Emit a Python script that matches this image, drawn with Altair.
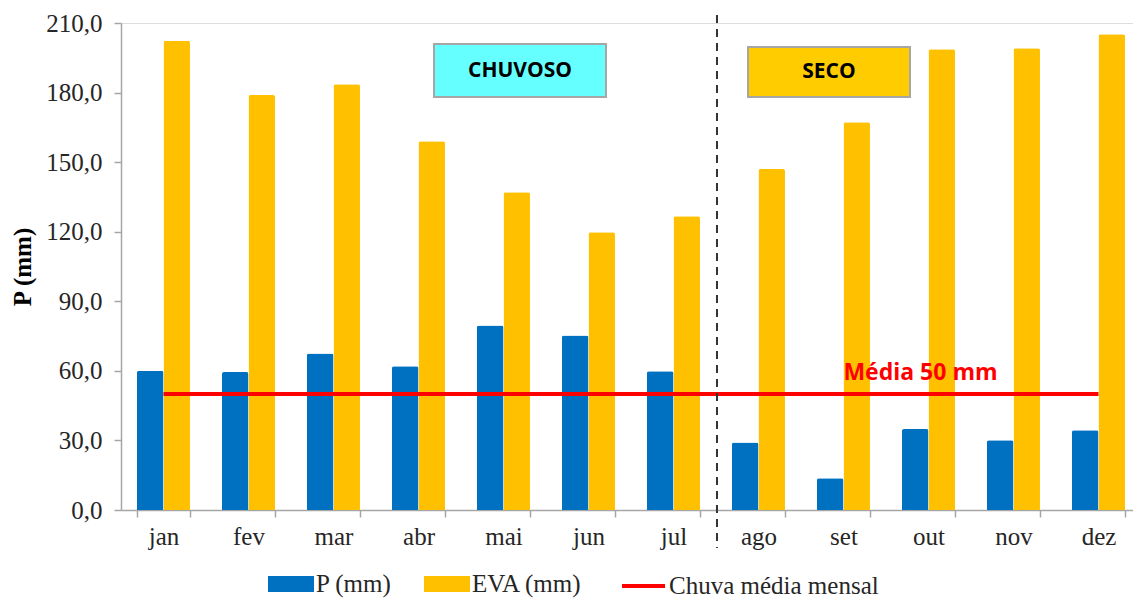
import altair as alt
import pandas as pd

months = ["jan", "fev", "mar", "abr", "mai", "jun", "jul", "ago", "set", "out", "nov", "dez"]
p_mm = [60.0, 59.5, 67.5, 62.0, 79.6, 75.3, 59.8, 29.1, 13.7, 34.9, 30.1, 34.4]
eva_mm = [202.3, 178.9, 183.6, 159.0, 137.0, 119.8, 126.7, 147.0, 167.2, 198.7, 199.1, 205.2]
mean_rain = 50.0
bar_series = ["P (mm)", "EVA (mm)"]
bar_colors = ["#0070C0", "#FFC000"]
line_series = ["Chuva média mensal"]
line_colors = ["#FF0000"]
y_ticks = [0, 30, 60, 90, 120, 150, 180, 210]
season_labels = ["CHUVOSO", "SECO"]
mean_label = "Média 50 mm"

rows = []
for m, p, e in zip(months, p_mm, eva_mm):
    rows.append({"month": m, "series": bar_series[0], "value": p})
    rows.append({"month": m, "series": bar_series[1], "value": e})
bars_df = pd.DataFrame(rows)
line_df = pd.DataFrame({"month": months, "series": line_series[0], "value": [mean_rain] * len(months)})
label_df = pd.DataFrame({"month": ["out"], "value": [mean_rain], "text": [mean_label]})
divider_df = pd.DataFrame({"month": ["ago"]})

SERIF = "Liberation Serif"
SANS = "Open Sans"
TXT = "#262626"
GRAY = "#A6A6A6"

x_enc = alt.X(
    "month:N", sort=months,
    scale=alt.Scale(paddingInner=0.3765, paddingOuter=0.1412, align=0.666),
    axis=alt.Axis(title=None, labelAngle=0, tickBand="extent", labelFont=SERIF,
                  labelFontSize=25, labelColor=TXT, labelPadding=7, tickSize=7,
                  tickColor=GRAY, domainColor=GRAY, domainWidth=1.5, tickWidth=1.5)
)
y_enc = alt.Y(
    "value:Q",
    scale=alt.Scale(domain=[0, 210], nice=False),
    axis=alt.Axis(title="P (mm)", values=y_ticks, grid=False,
                  labelExpr="replace(format(datum.value, '.1f'), '.', ',')",
                  labelFont=SERIF, labelFontSize=25, labelColor=TXT, labelPadding=12,
                  tickSize=7, tickColor=GRAY, domainColor=GRAY, domainWidth=1.5, tickWidth=1.5,
                  titleFont=SERIF, titleFontSize=25, titleFontWeight="bold", titleColor="#000000",
                  titlePadding=10)
)

bar_legend = alt.Legend(
    title=None, orient="none", direction="horizontal",
    legendX=147, legendY=538, padding=0,
    labelFont=SERIF, labelFontSize=25, labelColor=TXT, labelOffset=2, labelLimit=0,
    columnPadding=32, symbolSize=2116, symbolType="M-1,-0.35H1V0.35H-1Z",
    symbolStrokeWidth=0,
)
line_legend = alt.Legend(
    title=None, orient="none", direction="horizontal",
    legendX=499, legendY=539.5, padding=0,
    labelFont=SERIF, labelFontSize=25, labelColor=TXT, labelOffset=2, labelLimit=0,
    symbolSize=1849, symbolType="stroke", symbolStrokeWidth=4,
)

bars = alt.Chart(bars_df).mark_bar(cornerRadiusTopLeft=2, cornerRadiusTopRight=2).encode(
    x=x_enc, y=y_enc,
    xOffset=alt.XOffset("series:N", sort=bar_series, scale=alt.Scale(domain=bar_series)),
    fill=alt.Fill("series:N", scale=alt.Scale(domain=bar_series, range=bar_colors), legend=bar_legend),
)

line = alt.Chart(line_df).mark_line(strokeWidth=4).encode(
    x=alt.X("month:N", sort=months), y="value:Q",
    stroke=alt.Stroke("series:N", scale=alt.Scale(domain=line_series, range=line_colors), legend=line_legend),
)

mean_text = alt.Chart(label_df).mark_text(
    font=SANS, fontSize=23, fontWeight="bold", color="#FF0000", dy=-21, dx=-8
).encode(x=alt.X("month:N", sort=months), y="value:Q", text="text:N")

divider = alt.Chart(divider_df).mark_rule(
    color="#333333", strokeWidth=2, strokeDash=[8, 6], xOffset=-15
).encode(
    x=alt.X("month:N", sort=months, bandPosition=0),
    y=alt.value(-8), y2=alt.value(525)
)

box1 = alt.Chart(pd.DataFrame({"t": [season_labels[0]]})).mark_rect(
    fill="#66FFFF", stroke=GRAY, strokeWidth=2
).encode(x=alt.value(313), x2=alt.value(485), y=alt.value(21), y2=alt.value(74))
box2 = alt.Chart(pd.DataFrame({"t": [season_labels[1]]})).mark_rect(
    fill="#FFCC00", stroke=GRAY, strokeWidth=2
).encode(x=alt.value(627), x2=alt.value(789), y=alt.value(24), y2=alt.value(74))
txt1 = alt.Chart(pd.DataFrame({"t": [season_labels[0]]})).mark_text(
    font=SANS, fontSize=21, fontWeight="bold", color="#000000"
).encode(x=alt.value(399), y=alt.value(48), text="t:N")
txt2 = alt.Chart(pd.DataFrame({"t": [season_labels[1]]})).mark_text(
    font=SANS, fontSize=21, fontWeight="bold", color="#000000"
).encode(x=alt.value(708), y=alt.value(49), text="t:N")

chart = alt.layer(bars, line, mean_text, divider, box1, box2, txt1, txt2).resolve_scale(
    fill="independent", stroke="independent"
).properties(
    width=1012, height=487,
    padding={"left": 113, "top": 15, "right": 0, "bottom": 92},
    autosize=alt.AutoSizeParams(type="none"),
).configure_view(stroke=None).configure(background="white")

chart.save("out.html", embed_options={"renderer": "svg", "actions": False})
